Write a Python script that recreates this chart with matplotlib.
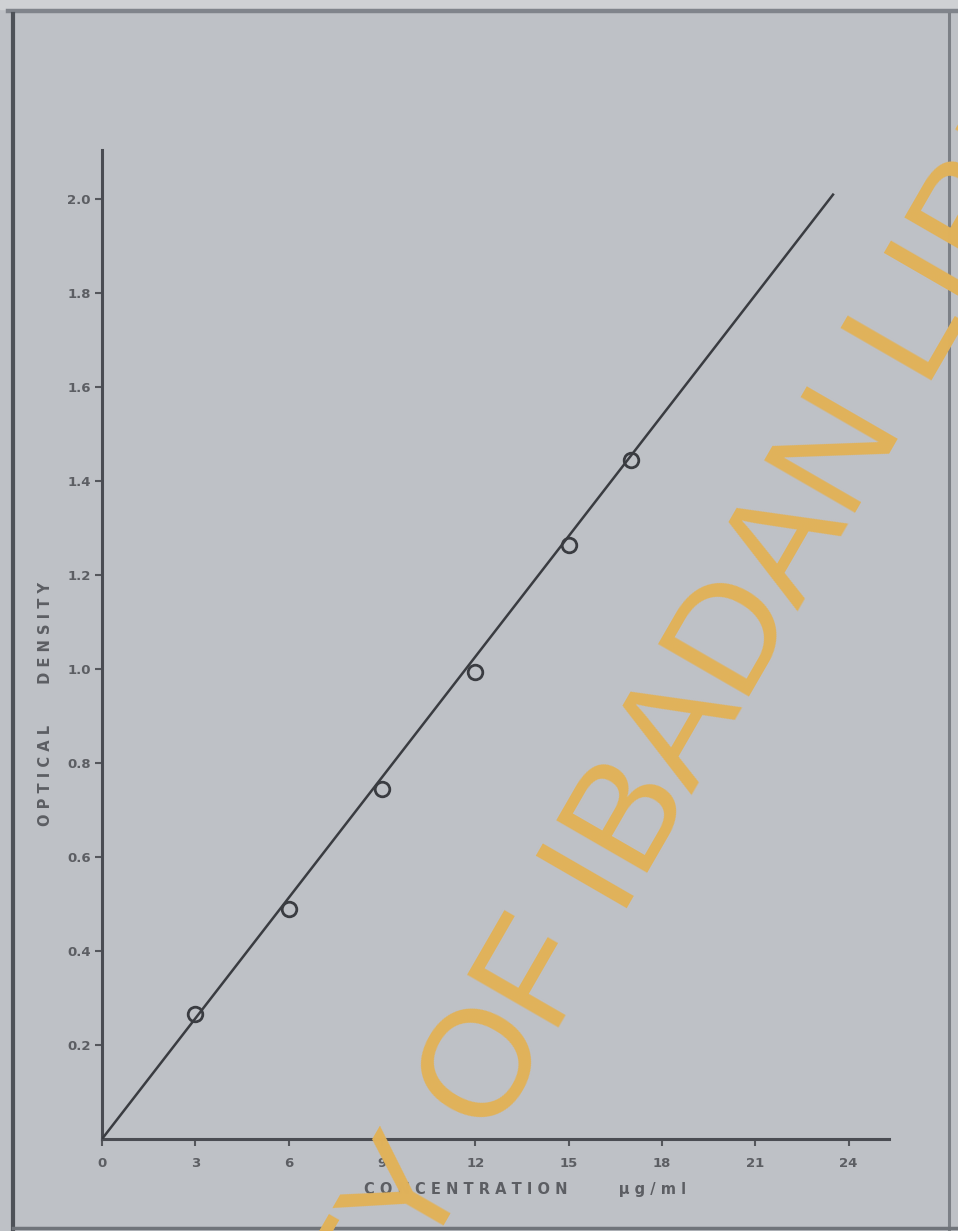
import matplotlib.pyplot as plt
from matplotlib.lines import Line2D
from matplotlib.patches import Rectangle

# data
conc = [3, 6, 9, 12, 15, 17]                     # ug/ml
od   = [0.265, 0.49, 0.745, 0.995, 1.265, 1.445]  # optical density
fit_x = [0, 23.5]
fit_y = [0, 2.01]

xticks = [0, 3, 6, 9, 12, 15, 18, 21, 24]
yticks = [0.2, 0.4, 0.6, 0.8, 1.0, 1.2, 1.4, 1.6, 1.8, 2.0]

bg    = '#bec1c6'
ink   = '#3a3c41'
label = '#5c5e63'

W, H = 958, 1231
fig = plt.figure(figsize=(W/100, H/100), dpi=100, facecolor=bg)

# scan frame
fig.add_artist(Rectangle((0, 1 - 9/H), 1, 9/H, transform=fig.transFigure,
                         color='#cfd1d4', zorder=0))
fig.add_artist(Line2D([8/W, 1], [1 - 11/H, 1 - 11/H], color='#80848b', lw=3.2))
fig.add_artist(Line2D([13/W, 13/W], [0, 1 - 14/H], color='#4e5258', lw=3.0))
fig.add_artist(Line2D([949/W, 949/W], [0, 1 - 14/H], color='#7c8086', lw=2.2))
fig.add_artist(Line2D([13/W, 1], [3/H, 3/H], color='#70747a', lw=2.5))

ax = fig.add_axes([102/W, 1 - 1139/H, (889 - 102)/W, (1139 - 150)/H])
ax.set_facecolor(bg)

ax.plot(fit_x, fit_y, color=ink, lw=1.8, zorder=3)
ax.plot(conc, od, 'o', ms=10.5, mfc='none', mec=ink, mew=2.0, zorder=4)

ax.set_xlim(0, 25.3)
ax.set_ylim(0, 2.105)
ax.set_xticks(xticks)
ax.set_xticklabels([str(t) for t in xticks])
ax.set_yticks(yticks)
ax.set_yticklabels([f'{t:.1f}' for t in yticks])

for s in ['top', 'right']:
    ax.spines[s].set_visible(False)
for s in ['left', 'bottom']:
    ax.spines[s].set_color('#4a4c52')
    ax.spines[s].set_linewidth(2.2)

ax.tick_params(axis='both', direction='out', length=5, width=1.5, color='#55575c',
               labelsize=9.5, labelcolor=label)
ax.tick_params(axis='x', pad=8)
ax.tick_params(axis='y', pad=3)
for t in ax.get_xticklabels() + ax.get_yticklabels():
    t.set_fontweight('bold')

ax.set_xlabel('C O N C E N T R A T I O N          µ g / m l', fontsize=10.5,
              fontweight='bold', color=label)
ax.xaxis.set_label_coords(0.5375, -0.043)
ax.set_ylabel('O P T I C A L        D E N S I T Y', fontsize=10.5,
              fontweight='bold', color=label)
ax.yaxis.set_label_coords(-0.062, 0.44)

# library watermark across the scan
fig.text(633/W, 1 - 898/H, 'UNIVERSITY OF IBADAN LIBRARY', fontsize=110,
         family='Liberation Sans', color='#e1b25a',
         rotation=60, rotation_mode='anchor', ha='center', va='baseline', zorder=10)

fig.savefig('out.png', dpi=100, facecolor=bg)
